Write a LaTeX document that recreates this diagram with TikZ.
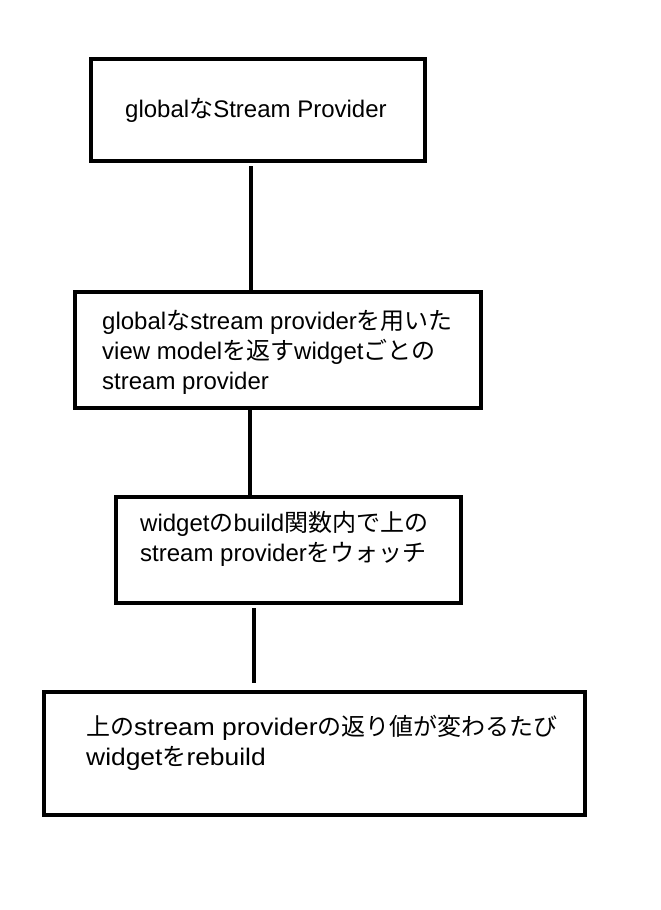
\documentclass[tikz,border=0pt]{standalone}
\usepackage{fontspec}
\setmainfont{Liberation Sans}
\newfontfamily\jp{Noto Sans CJK JP}
\newfontfamily\widesans[FakeStretch=1.1]{Liberation Sans}
\tikzset{
  box/.style={draw=black, line width=4pt, fill=white, inner sep=0pt, minimum width=#1},
  txt/.style={anchor=base west, inner sep=0pt, align=left, font=\fontsize{24}{29.7}\selectfont},
  conn/.style={draw=black, line width=4pt}
}
\begin{document}
\begin{tikzpicture}[x=1pt,y=-1pt]
\path[use as bounding box, fill=white] (0,0) rectangle (661,910);
% boxes
\node[box=334pt, minimum height=102pt] (b1) at (258,110) {};
\node[box=406pt, minimum height=116pt] (b2) at (278,350) {};
\node[box=345pt, minimum height=106pt] (b3) at (288.5,550) {};
\node[box=541pt, minimum height=123pt] (b4) at (314.5,753.5) {};
% texts (anchored at the baseline of the last line)
\node[txt] (t1) at (125,117) {global{\jp な}Stream Provider};
\node[txt] (t2) at (102,389) {global{\jp な}stream provider{\jp を用いた}\\view model{\jp を返す}widget{\jp ごとの}\\stream provider};
\node[txt] (t3) at (140,561) {widget{\jp の}build{\jp 関数内で上の}\\stream provider{\jp をウォッチ}};
\node[txt] (t4) at (86,765) {{\jp 上の}{\widesans stream provider}{\jp の返り値が変わるたび}\\{\widesans widget}{\jp を}{\widesans rebuild}};
% connectors
\coordinate (c1a) at (251,166);
\coordinate (c1b) at (251,290);
\coordinate (c2a) at (250,410);
\coordinate (c2b) at (250,495);
\coordinate (c3a) at (254,608);
\coordinate (c3b) at (254,683);
\draw[conn] (c1a) -- (c1b);
\draw[conn] (c2a) -- (c2b);
\draw[conn] (c3a) -- (c3b);
\end{tikzpicture}
\end{document}
